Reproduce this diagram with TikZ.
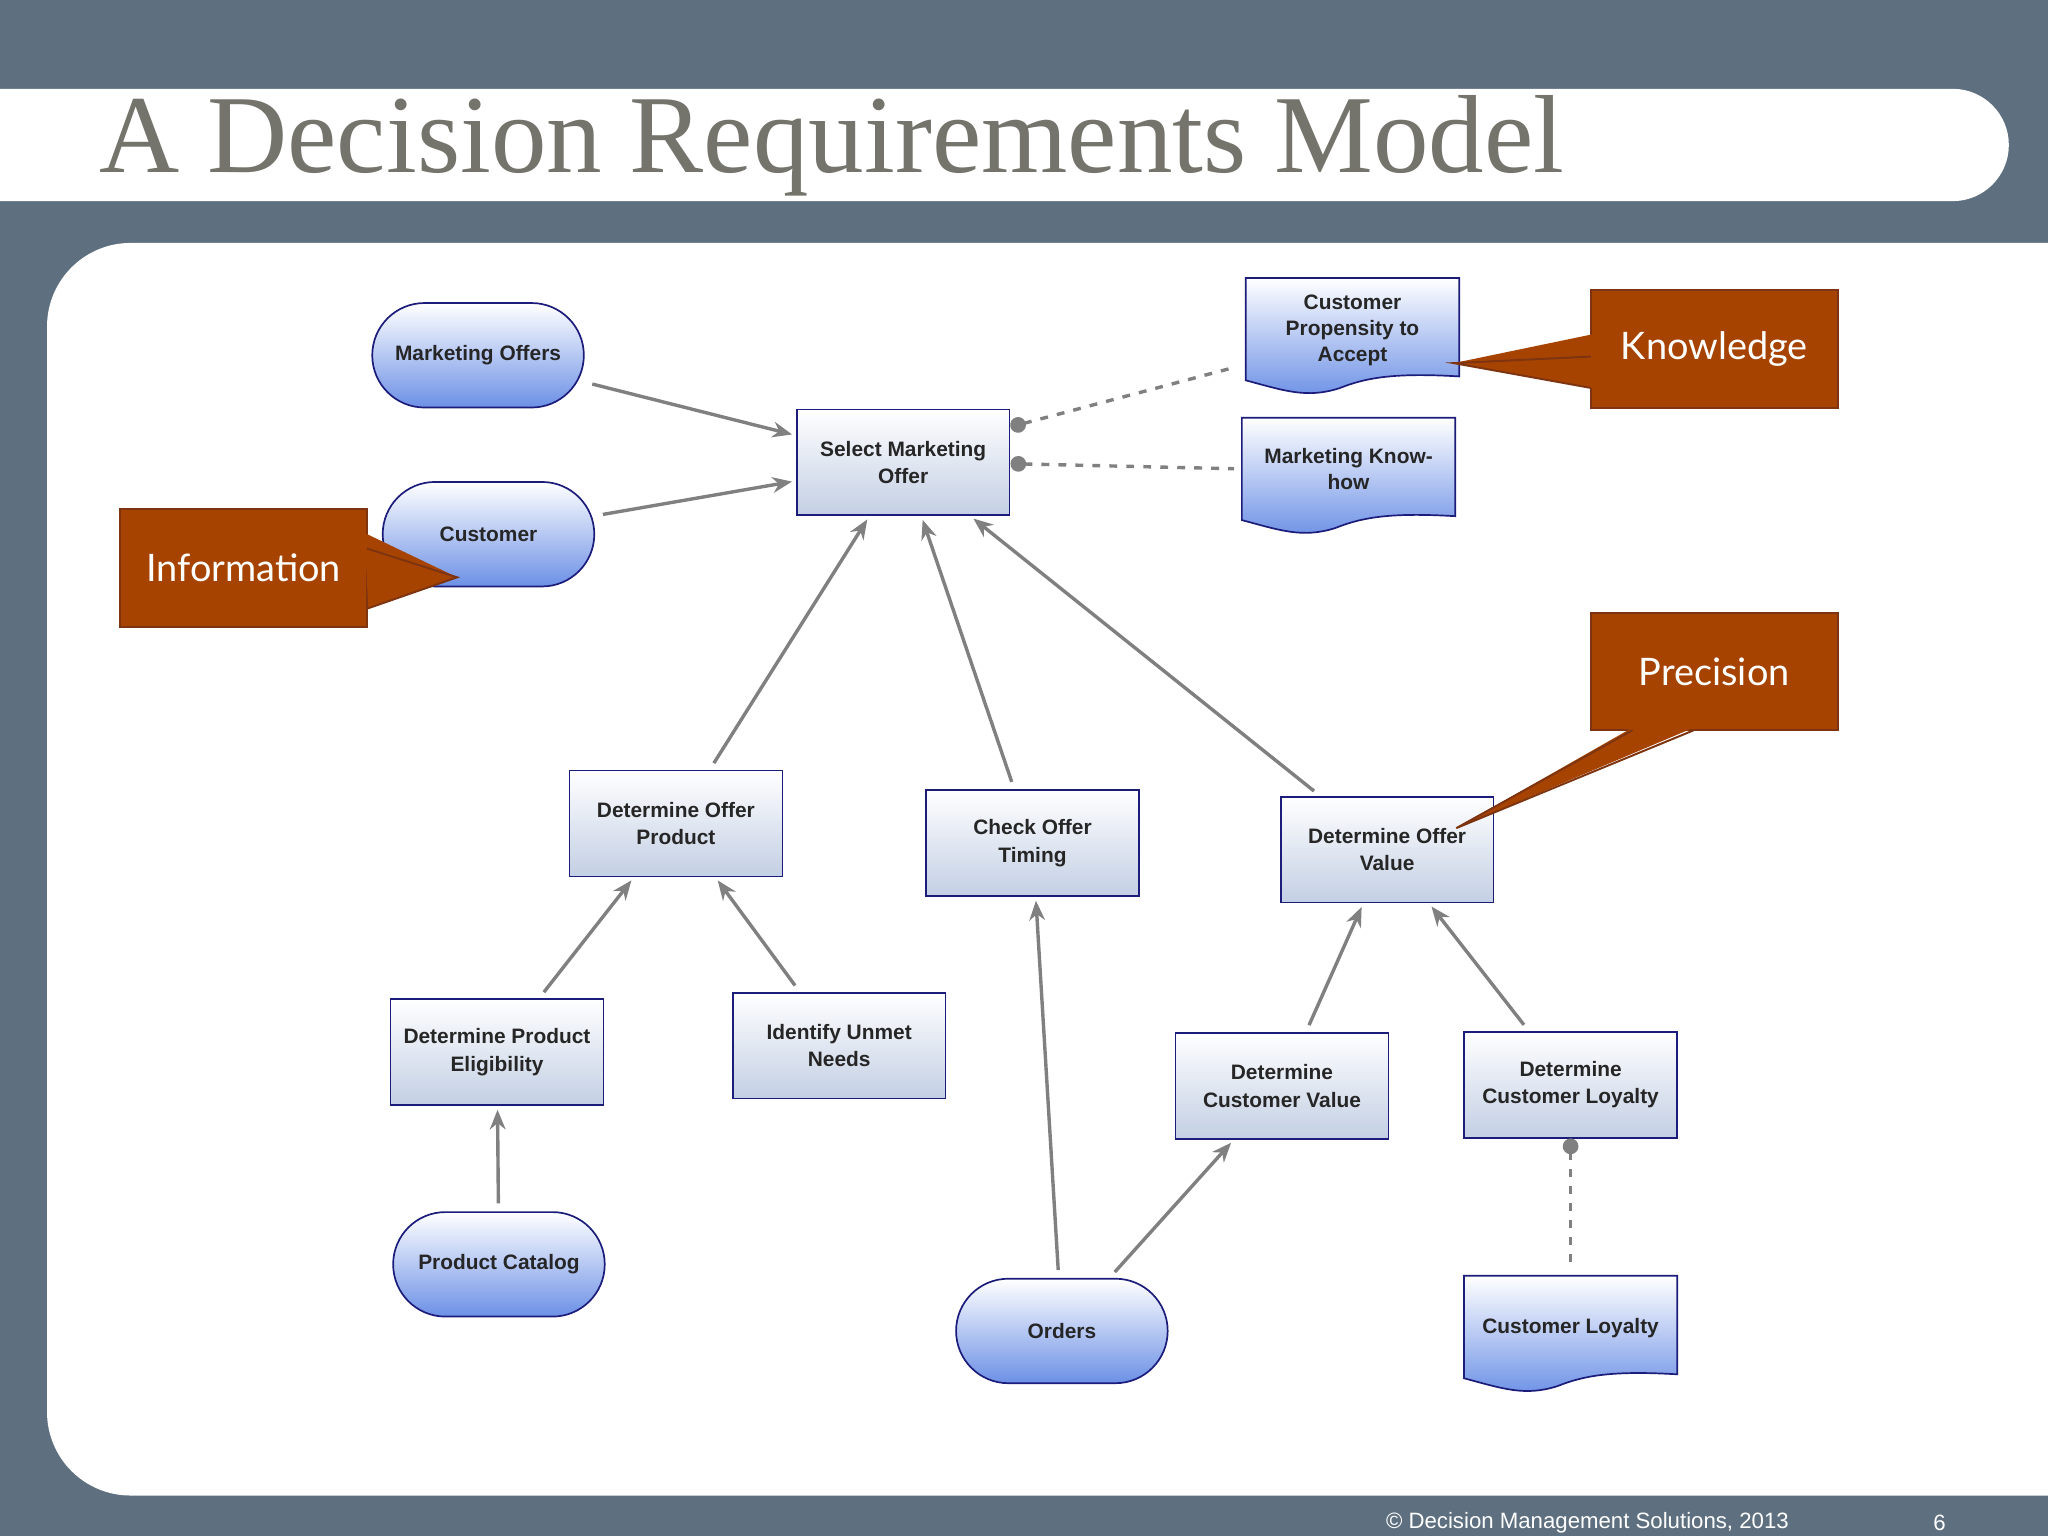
\documentclass[tikz,border=0pt]{standalone}
\usepackage{fontspec}
\setmainfont{Liberation Serif}
\newfontfamily\nodefont{Liberation Sans}
\newfontfamily\callfont{Lato}
\usetikzlibrary{arrows.meta,calc}
\definecolor{bgslate}{HTML}{5E7080}
\definecolor{navy}{HTML}{1C1C7A}
\definecolor{rectbot}{HTML}{C3CFE4}
\definecolor{ovalbot}{HTML}{6C90E6}
\definecolor{callfill}{HTML}{A64300}
\definecolor{callborder}{HTML}{7E3410}
\definecolor{titlegray}{HTML}{74746C}
\definecolor{edgegray}{HTML}{808080}
\tikzset{
  rectnode/.style={draw=navy,line width=1.3pt,top color=white,bottom color=rectbot,minimum width=163pt,minimum height=81pt,align=center,font=\nodefont\bfseries\fontsize{16}{21}\selectfont,text=black!85,inner sep=1pt},
  ovalnode/.style={draw=navy,line width=1.3pt,top color=white,bottom color=ovalbot,minimum width=162pt,minimum height=80pt,rounded corners=40pt,align=center,font=\nodefont\bfseries\fontsize{16}{21}\selectfont,text=black!85},
  docnode/.style={draw=none,minimum width=163pt,minimum height=78pt,align=center,font=\nodefont\bfseries\fontsize{16}{20}\selectfont,text=black!85,inner sep=1pt},
  callbox/.style={draw=callborder,line width=1.5pt,fill=callfill,minimum width=189pt,minimum height=90pt,text=white,font=\callfont\fontsize{29}{32}\selectfont},
  req/.style={draw=edgegray,line width=2.6pt,-{Stealth[length=15pt,width=12pt]},shorten >=3pt,shorten <=6pt},
  kreq/.style={draw=edgegray,line width=2.6pt,dash pattern=on 6pt off 7pt,{Circle[length=12pt,width=12pt]}-,shorten >=6pt},
}
\newcommand{\docshape}[1]{%
  \path[draw=navy,line width=1.3pt,top color=white,bottom color=ovalbot]
    (#1.north west) -- (#1.north east) -- ($(#1.south east)+(0,-3)$)
    .. controls ($(#1.south east)+(-50,-6)$) and ($(#1.south)+(10,-2)$) .. ($(#1.south)+(-10,6)$)
    .. controls ($(#1.south)+(-35,14)$) and ($(#1.south west)+(30,8)$) .. ($(#1.south west)+(0,0)$) -- cycle;}
\begin{document}
\begin{tikzpicture}[x=1pt,y=-1pt]
\useasboundingbox (0,0) rectangle (1568,1176);
\fill[bgslate] (0,0) rectangle (1568,1176);
% title banner
\fill[white,rounded corners=43pt] (-60,68) rectangle (1538,154);
\node[anchor=west,text=titlegray,font=\fontsize{85}{85}\selectfont,inner sep=0] at (76,112) {A Decision Requirements Model};
% panel
\fill[white,rounded corners=64pt] (36,186) rectangle (1700,1145);
\node[anchor=west,text=white,font=\nodefont\fontsize{17}{17}\selectfont,inner sep=0] at (1061,1166) {© Decision Management Solutions, 2013};
\node[text=white,font=\nodefont\fontsize{17}{17}\selectfont,inner sep=0] at (1485,1166) {6};

% nodes
\node[ovalnode] (mo) at (366,272) {Marketing Offers};
\node[ovalnode] (cu) at (374,409) {Customer};
\node[rectnode] (smo) at (691.5,354) {Select Marketing\\Offer};
\node[docnode] (cpa) at (1035.5,252) {};
\docshape{cpa}
\node[docnode] at (1035.5,253) {Customer\\Propensity to\\Accept};
\node[docnode] (mkh) at (1032.5,359) {};
\docshape{mkh}
\node[docnode] at (1032.5,359) {Marketing Know-\\how};
\node[rectnode] (dop) at (517.5,630.5) {Determine Offer\\Product};
\node[rectnode] (cot) at (790.5,645.5) {Check Offer\\Timing};
\node[rectnode] (dov) at (1062,650.5) {Determine Offer\\Value};
\node[rectnode] (dpe) at (380.5,805.5) {Determine Product\\Eligibility};
\node[rectnode] (iun) at (642.5,800.5) {Identify Unmet\\Needs};
\node[rectnode] (dcv) at (981.5,831.5) {Determine\\Customer Value};
\node[rectnode] (dcl) at (1202.5,830.5) {Determine\\Customer Loyalty};
\node[ovalnode] (pc) at (382,968) {Product Catalog};
\node[ovalnode] (ord) at (813,1019) {Orders};
\node[docnode] (cl) at (1202.5,1016) {};
\docshape{cl}
\node[docnode] at (1202.5,1017) {Customer Loyalty};

% edges
\draw[req] (mo) -- (smo);
\draw[req] (cu) -- (smo);
\draw[req] (dop) -- (smo);
\draw[req] (cot) -- (smo);
\draw[req] (dov) -- (smo);
\draw[req] (dpe) -- (dop);
\draw[req] (iun) -- (dop);
\draw[req] (pc) -- (dpe);
\draw[req] (ord) -- (cot);
\draw[req] (ord) -- (dcv);
\draw[req] (dcv) -- (dov);
\draw[req] (dcl) -- (dov);
\draw[kreq] ($(smo.north east)+(0,14)$) -- ($(cpa.west)+(-4,28)$);
\draw[kreq] ($(smo.east)+(0,1)$) -- (mkh.west);
\draw[kreq] (dcl.south) -- ($(cl.north)+(0,-2)$);

% callouts
\node[callbox] (info) at (186.5,435) {Information};
\fill[callfill] (279,408) -- (350,442) -- (282,466) -- cycle;
\draw[callborder,line width=1.5pt] (281,420) -- (350,442) -- (281,466);
\node[callbox] (know) at (1312.5,267) {Knowledge};
\fill[callfill] (1219,256) -- (1113,278) -- (1219,297) -- cycle;
\draw[callborder,line width=1.5pt] (1218,273) -- (1113,278) -- (1218,297);
\node[callbox] (prec) at (1312.5,514) {Precision};
\fill[callfill] (1250,557) -- (1115,634) -- (1297,557) -- cycle;
\draw[callborder,line width=1.5pt] (1250,559) -- (1115,634) -- (1297,559);
\end{tikzpicture}
\end{document}
